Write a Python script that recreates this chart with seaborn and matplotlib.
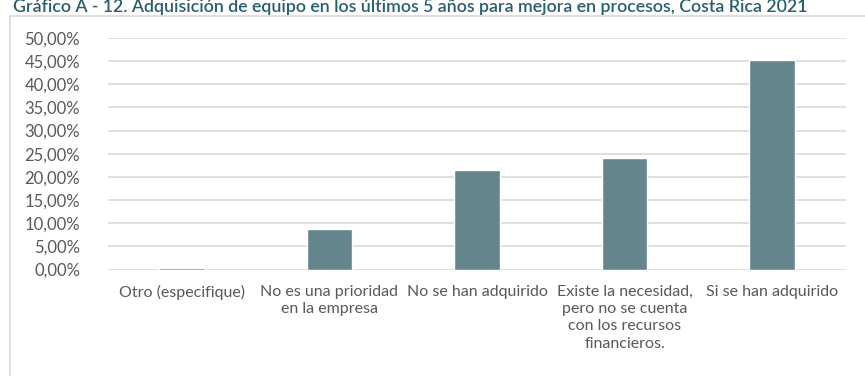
import matplotlib
matplotlib.use("Agg")
import matplotlib.pyplot as plt
from matplotlib.patches import Rectangle
from matplotlib.ticker import FuncFormatter, MultipleLocator
import seaborn as sns
import pandas as pd

categorias = [
    "Otro (especifique)",
    "No es una prioridad\nen la empresa",
    "No se han adquirido",
    "Existe la necesidad,\npero no se cuenta\ncon los recursos\nfinancieros.",
    "Si se han adquirido",
]
porcentajes = [0.004, 0.087, 0.215, 0.240, 0.452]

titulo = ("Gráfico A - 12. Adquisición de equipo en los últimos 5 años "
          "para mejora en procesos, Costa Rica 2021")

sns.set_theme(style="white")
plt.rcParams["font.family"] = ["Lato", "DejaVu Sans"]

W, H = 865, 376
fig = plt.figure(figsize=(W / 100, H / 100), dpi=100)
fig.patch.set_facecolor("white")

# outer frame
fig.patches.append(Rectangle((10 / W, -0.05), 1.2, 1 - 16 / H + 0.05,
                             transform=fig.transFigure, fill=False,
                             edgecolor="#D9D9D9", linewidth=1.2))

ax = fig.add_axes([108 / W, 1 - 269.5 / H, (846 - 108) / W, (269.5 - 38) / H])

df = pd.DataFrame({"categoria": categorias, "valor": porcentajes})
sns.barplot(data=df, x="categoria", y="valor", color="#65858D",
            saturation=1, width=0.31, ax=ax, zorder=3)

ax.set_ylim(0, 0.5)
ax.yaxis.set_major_locator(MultipleLocator(0.05))
ax.yaxis.set_major_formatter(
    FuncFormatter(lambda v, _: f"{v * 100:.2f}%".replace(".", ",")))
ax.grid(axis="y", color="#D9D9D9", linewidth=1.2, zorder=0)
ax.set_axisbelow(True)
for s in ax.spines.values():
    s.set_visible(False)
ax.set_xlabel("")
ax.set_ylabel("")
ax.tick_params(axis="y", length=0, pad=20, labelsize=12, labelcolor="#595959")
ax.tick_params(axis="x", length=0, pad=11, labelsize=11.5, labelcolor="#595959")
for lbl in ax.get_xticklabels():
    lbl.set_horizontalalignment("center")
    lbl.set_multialignment("center")
    lbl.set_linespacing(1.3)

fig.text(13 / W, 1 - 12 / H, titulo, ha="left", va="baseline",
         fontsize=12.8, fontweight="semibold", color="#2B5F6E")

fig.savefig("out.png", dpi=100)
